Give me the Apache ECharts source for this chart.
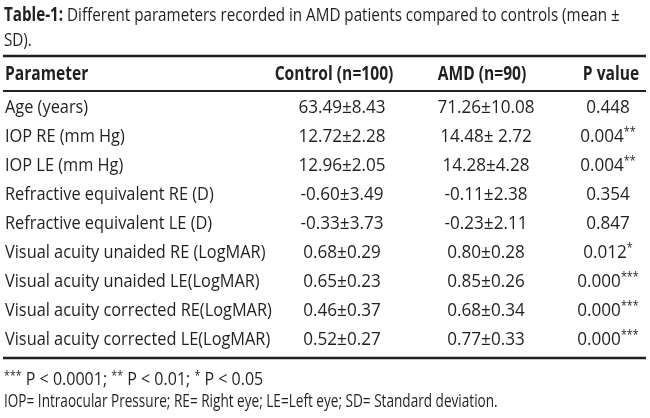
<!DOCTYPE html>
<html>
<head>
<meta charset="utf-8">
<script src="https://cdn.jsdelivr.net/npm/echarts@6/dist/echarts.min.js"></script>
<style>
html,body{margin:0;padding:0;background:#fff;}
#main{width:650px;height:418px;}
</style>
</head>
<body>
<div id="main"></div>
<script>
// table data
var parameters = [
  'Age (years)',
  'IOP RE (mm Hg)',
  'IOP LE (mm Hg)',
  'Refractive equivalent RE (D)',
  'Refractive equivalent LE (D)',
  'Visual acuity unaided RE (LogMAR)',
  'Visual acuity unaided LE(LogMAR)',
  'Visual acuity corrected RE(LogMAR)',
  'Visual acuity corrected LE(LogMAR)'
];
var controlVals = ['63.49\u00b18.43','12.72\u00b12.28','12.96\u00b12.05','-0.60\u00b13.49','-0.33\u00b13.73','0.68\u00b10.29','0.65\u00b10.23','0.46\u00b10.37','0.52\u00b10.27'];
var amdVals = ['71.26\u00b110.08','14.48\u00b1 2.72','14.28\u00b14.28','-0.11\u00b12.38','-0.23\u00b12.11','0.80\u00b10.28','0.85\u00b10.26','0.68\u00b10.34','0.77\u00b10.33'];
var pVals = ['0.448','0.004','0.004','0.354','0.847','0.012','0.000','0.000','0.000'];
var pStars = ['','**','**','','','*','***','***','***'];
var headers = ['Parameter','Control (n=100)','AMD (n=90)','P value'];

var FONT = '"Open Sans","Noto Sans",sans-serif';
var INK = '#231f20';
// column anchors (px) and text squeeze
var colX = [5, 342, 486, 608];
var colAlign = ['left','center','center','center'];
var colScale = [0.86, 0.9, 0.9, 0.9];

var chart = echarts.init(document.getElementById('main'), null, {renderer:'canvas'});

function cellText(col, i) {
  if (col === 0) return parameters[i];
  if (col === 1) return controlVals[i];
  if (col === 2) return amdVals[i];
  return '{v|' + pVals[i] + '}' + (pStars[i] ? '{s|' + pStars[i] + '}' : '');
}

function cellSeries(col) {
  return {
    type: 'custom',
    silent: true,
    data: parameters.map(function (t, i) { return [colX[col], i]; }),
    renderItem: function (params, api) {
      var pt = api.coord([api.value(0), api.value(1)]);
      return {
        type: 'text',
        x: pt[0], y: pt[1],
        scaleX: colScale[col],
        style: {
          text: cellText(col, params.dataIndex),
          fontFamily: FONT, fontSize: 19, fill: INK,
          align: colAlign[col], verticalAlign: 'middle',
          rich: {
            v: {fontFamily: FONT, fontSize: 19, fill: INK},
            s: {fontFamily: FONT, fontSize: 12, fill: INK, verticalAlign: 'top', padding: [0,0,8,0]}
          }
        }
      };
    }
  };
}

var graphics = [];
// title
graphics.push({
  type: 'text', x: 4, y: 3, scaleX: 0.80,
  style: {
    text: '{b|Table-1:}{r| Different parameters recorded in AMD patients compared to controls (mean \u00b1}\n{r|SD).}',
    rich: {
      b: {fontFamily: FONT, fontSize: 19, fontWeight: 'bold', fill: INK, lineHeight: 25},
      r: {fontFamily: FONT, fontSize: 19, fill: INK, lineHeight: 25}
    }
  }
});
// rules
[[56, 2.5], [91, 2], [358, 2.5]].forEach(function (r) {
  graphics.push({type: 'line', shape: {x1: 3, y1: r[0], x2: 646, y2: r[0]}, style: {stroke: INK, lineWidth: r[1]}});
});
// header
var headX = [5, 334, 482, 611];
headers.forEach(function (h, i) {
  graphics.push({
    type: 'text', x: headX[i], y: 74, scaleX: 0.8,
    style: {text: h, fontFamily: FONT, fontSize: 19.5, fontWeight: 'bold', fill: INK, align: colAlign[i], verticalAlign: 'middle'}
  });
});
// footnotes
var starRich = {s: {fontFamily: FONT, fontSize: 12, fill: INK, verticalAlign: 'top', padding: [0,0,3,0]}};
graphics.push({
  type: 'text', x: 4, y: 380, scaleX: 0.89,
  style: {
    text: '{s|***} P < 0.0001; {s|**} P < 0.01; {s|*} P < 0.05',
    fontFamily: FONT, fontSize: 18, fill: INK, verticalAlign: 'middle',
    rich: starRich
  }
});
graphics.push({
  type: 'text', x: 4, y: 402, scaleX: 0.755,
  style: {
    text: 'IOP= Intraocular Pressure; RE= Right eye; LE=Left eye; SD= Standard deviation.',
    fontFamily: FONT, fontSize: 18, fill: INK, verticalAlign: 'middle'
  }
});

chart.setOption({
  backgroundColor: '#fff',
  animation: false,
  grid: {left: 0, right: 0, top: 93.5, height: 261},
  xAxis: {type: 'value', min: 0, max: 650, show: false},
  yAxis: {type: 'category', data: parameters, inverse: true, show: false},
  series: [cellSeries(0), cellSeries(1), cellSeries(2), cellSeries(3)],
  graphic: graphics
});
</script>
</body>
</html>
